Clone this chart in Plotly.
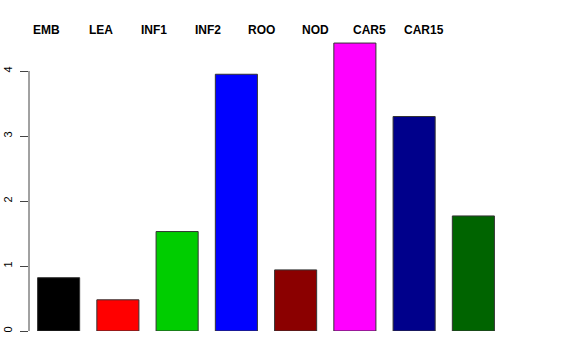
import plotly.graph_objects as go

categories = ["EMB", "LEA", "INF1", "INF2", "ROO", "NOD", "CAR5", "CAR15"]
values = [0.82, 0.48, 1.53, 3.95, 0.94, 4.43, 3.30, 1.77]
colors = ["#000000", "#FF0000", "#00CD00", "#0000FF", "#8B0000", "#FF00FF", "#00008B", "#006400"]
label_pos = [-0.20, 0.71, 1.61, 2.52, 3.43, 4.34, 5.25, 6.16]
ytick_vals = [0, 1, 2, 3, 4]

x_idx = list(range(len(categories)))

fig = go.Figure()
fig.add_trace(go.Bar(
    x=x_idx, y=values,
    marker=dict(color=colors, line=dict(color="#333333", width=1)),
    hoverinfo="skip",
))

for pos, lab in zip(label_pos, categories):
    fig.add_annotation(
        x=pos, xref="x", y=1.008, yref="paper",
        text="<b>" + lab + "</b>", showarrow=False,
        xanchor="center", yanchor="middle",
        font=dict(family="Liberation Sans, Arial, sans-serif", size=12, color="black"),
    )

fig.add_shape(type="line", xref="paper", x0=0, x1=0, yref="y", y0=0, y1=4,
              line=dict(color="#444444", width=1))

fig.update_layout(
    width=576, height=360,
    margin=dict(l=29.4, r=73, t=31.5, b=29, autoexpand=False),
    paper_bgcolor="white", plot_bgcolor="white",
    showlegend=False,
    bargap=0.29,
    xaxis=dict(range=[-0.5, 7.5], showticklabels=False, showgrid=False,
               zeroline=False, showline=False, ticks="", automargin=False),
    yaxis=dict(range=[0, 4.6], tickvals=ytick_vals, ticks="outside", ticklen=8,
               tickcolor="#444444", tickwidth=1, tickangle=-90, automargin=False,
               ticklabelstandoff=4,
               showgrid=False, zeroline=False, showline=False,
               tickfont=dict(family="Liberation Sans, Arial, sans-serif", size=11, color="black")),
)

fig.write_html("out.html",
               config={"displayModeBar": False, "staticPlot": True},
               post_script="document.body.style.margin='0';document.body.style.padding='0';")
